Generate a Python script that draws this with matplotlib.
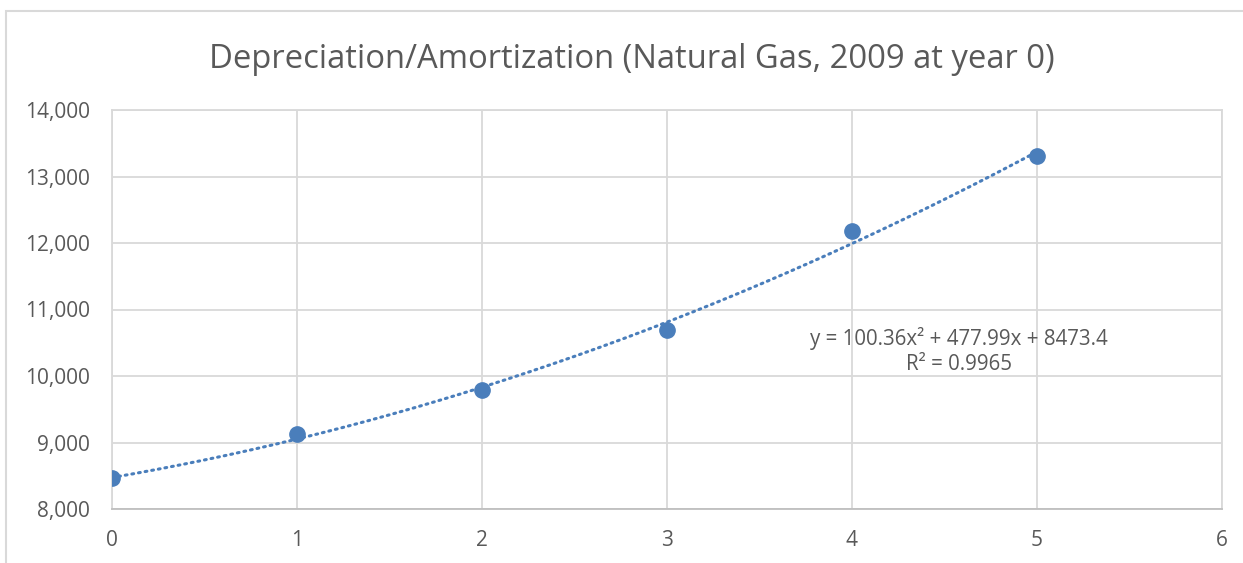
import numpy as np
import matplotlib.pyplot as plt
from matplotlib.patches import Rectangle

plt.rcParams['font.family'] = ['Open Sans', 'DejaVu Sans']

years = [0, 1, 2, 3, 4, 5]
dep_amort = [8460, 9135, 9785, 10695, 12180, 13305]
trend_coef = [100.36, 477.99, 8473.4]   # from the chart's trendline label
r_squared = 0.9965

x_ticks = [0, 1, 2, 3, 4, 5, 6]
y_ticks = [8000, 9000, 10000, 11000, 12000, 13000, 14000]

blue = '#4A7EBB'
grid_c = '#D9D9D9'
text_c = '#595959'

fig = plt.figure(figsize=(12.43, 5.63), dpi=100)
ax = fig.add_axes([112 / 1243, 1 - 509 / 563, 1110 / 1243, 399 / 563])

# chart area border (cropped on right/bottom)
fig.patches.append(Rectangle((6 / 1243, -0.1), 1.2, 1 - 11 / 563 + 0.1,
                             transform=fig.transFigure, fill=False,
                             edgecolor=grid_c, linewidth=1.5))

xs = np.linspace(0, 5, 200)
ax.plot(xs, np.polyval(trend_coef, xs), color=blue, linestyle=(0, (0.6, 1.6)),
        linewidth=2.2, dash_capstyle='round', zorder=3)
ax.plot(years, dep_amort, 'o', color=blue, markersize=11, zorder=4)

ax.set_xlim(0, 6)
ax.set_ylim(8000, 14000)
ax.set_xticks(x_ticks)
ax.set_yticks(y_ticks)
ax.set_yticklabels([f'{v:,}' for v in y_ticks])
ax.grid(True, color=grid_c, linewidth=1.3)
ax.set_axisbelow(True)
for s in ax.spines.values():
    s.set_color(grid_c)
    s.set_linewidth(1.3)
ax.spines['bottom'].set_color('#BFBFBF')
ax.tick_params(length=0, labelsize=15, colors=text_c)
ax.tick_params(axis='y', pad=16)
ax.tick_params(axis='x', pad=15)

fig.text(632 / 1243, 1 - 59 / 563, 'Depreciation/Amortization (Natural Gas, 2009 at year 0)',
         ha='center', va='center', fontsize=23.6, color=text_c)

eq = (f'y = {trend_coef[0]}x² + {trend_coef[1]}x + {trend_coef[2]}\n'
      f'R² = {r_squared}')
ax.text(4.578, 10376, eq, ha='center', va='center', fontsize=14.8,
        color=text_c, linespacing=1.3)

fig.savefig('out.png', dpi=100)
